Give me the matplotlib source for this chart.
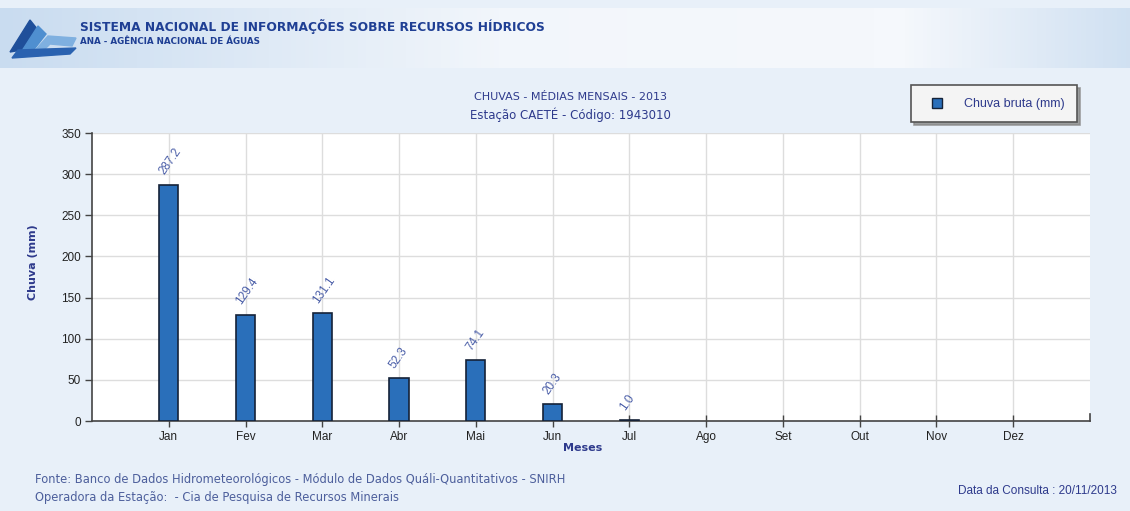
import numpy as np
import matplotlib.pyplot as plt
from matplotlib.colors import LinearSegmentedColormap
from matplotlib.lines import Line2D
from matplotlib.patches import Polygon

# monthly rainfall (mm), CAETÉ station, 2013 - no data after July
months = ['Jan', 'Fev', 'Mar', 'Abr', 'Mai', 'Jun', 'Jul', 'Ago', 'Set', 'Out', 'Nov', 'Dez']
chuva = [287.2, 129.4, 131.1, 52.3, 74.1, 20.3, 1.0, np.nan, np.nan, np.nan, np.nan, np.nan]
yticks = [0, 50, 100, 150, 200, 250, 300, 350]

W, H = 1130, 511
fig = plt.figure(figsize=(W / 100, H / 100), dpi=100)
fig.patch.set_facecolor('#e8f0f9')

# header banner with a soft gradient
hdr = fig.add_axes([0, 1 - 68 / H, 1, 60 / H])
grad = np.linspace(0, 1, 256)
band = np.interp(grad, [0, 0.45, 0.8, 1], [0.0, 0.85, 0.9, 0.15])
hdr.imshow(band[np.newaxis, :], aspect='auto',
           cmap=LinearSegmentedColormap.from_list('hdr', ['#c9dcf0', '#f5f8fc']),
           extent=[0, 1, 0, 1])
hdr.set_xlim(0, 1)
hdr.set_ylim(0, 1)
hdr.axis('off')

# rough logo swooshes
logo = fig.add_axes([8 / W, 1 - 60 / H, 70 / W, 50 / H])
logo.set_xlim(0, 70)
logo.set_ylim(0, 50)
logo.axis('off')
logo.add_patch(Polygon([[2, 8], [22, 40], [30, 30], [14, 10]], closed=True, color='#1f4f9a'))
logo.add_patch(Polygon([[12, 6], [30, 34], [38, 26], [24, 8]], closed=True, color='#4f8fd0'))
logo.add_patch(Polygon([[22, 4], [40, 24], [68, 22], [64, 14], [42, 16], [30, 4]], closed=True, color='#7fb0e0'))
logo.add_patch(Polygon([[4, 2], [62, 6], [68, 12], [10, 10]], closed=True, color='#2a62b0'))

fig.text(80 / W, 1 - 26 / H, 'SISTEMA NACIONAL DE INFORMAÇÕES SOBRE RECURSOS HÍDRICOS',
         fontsize=8.8, fontweight='bold', color='#1f3f94', va='center', family='DejaVu Sans Condensed')
fig.text(80 / W, 1 - 42 / H, 'ANA - AGÊNCIA NACIONAL DE ÁGUAS',
         fontsize=6.3, fontweight='bold', color='#1f3f94', va='center', family='DejaVu Sans Condensed')

# chart titles
fig.text(570 / W, 1 - 97 / H, 'CHUVAS - MÉDIAS MENSAIS - 2013', fontsize=8, color='#2e3a8c',
         ha='center', va='center', family='DejaVu Sans Condensed')
fig.text(570 / W, 1 - 115 / H, 'Estação CAETÉ - Código: 1943010', fontsize=8.5, color='#2e3a8c',
         ha='center', va='center', family='DejaVu Sans Condensed')

# plot area
ax = fig.add_axes([92 / W, 1 - 421 / H, (1090 - 92) / W, (421 - 133) / H])
ax.set_facecolor('white')
x = np.arange(len(months))
ax.bar(x, chuva, width=0.25, color='#2a6fba', edgecolor='#152238', linewidth=1.2, zorder=3)

for xi, v in zip(x, chuva):
    if np.isnan(v):
        continue
    ax.annotate(f'{v:.1f}', (xi, v), xytext=(-5, 8), textcoords='offset points',
                rotation=55, rotation_mode='anchor', ha='left', va='center',
                fontsize=8.5, color='#4a5ea8', zorder=4, family='Liberation Sans')

ax.set_xlim(-1, 12)
ax.set_ylim(0, 350)
ax.set_xticks(x)
ax.set_xticklabels(months, fontsize=8.5, color='#222222', family='Liberation Sans')
ax.set_yticks(yticks)
ax.set_yticklabels([str(t) for t in yticks], fontsize=8.5, color='#222222', family='Liberation Sans')
ax.grid(True, color='#dddddd', linewidth=1, zorder=0)
ax.tick_params(axis='both', length=5, width=1, color='#444444', pad=3)
ax.tick_params(axis='x', direction='inout', length=8)
for s in ['top', 'right']:
    ax.spines[s].set_visible(False)
for s in ['left', 'bottom']:
    ax.spines[s].set_color('#444444')
    ax.spines[s].set_linewidth(1.2)
ax.axvline(12, ymin=0, ymax=0.025, color='#444444', linewidth=1.2, clip_on=False)

ax.set_ylabel('Chuva (mm)', fontsize=8, color='#2e3a8c', fontweight='bold',
              family='DejaVu Sans Condensed')
ax.yaxis.set_label_coords((38 - 92) / (1090 - 92), (421 - 262) / (421 - 133))
ax.set_xlabel('Meses', fontsize=8, color='#2e3a8c', fontweight='bold',
              family='DejaVu Sans Condensed')
ax.xaxis.set_label_coords((583 - 92) / (1090 - 92), -0.075)

handle = Line2D([], [], marker='s', linestyle='none', markersize=7,
                markerfacecolor='#2a6fba', markeredgecolor='#152238')
leg = fig.legend([handle], ['Chuva bruta (mm)'], loc='center',
                 bbox_to_anchor=(994 / W, 1 - 104 / H), fontsize=9, frameon=True,
                 fancybox=False, shadow={'color': '#888888', 'alpha': 0.8},
                 borderpad=1.0, borderaxespad=0, handletextpad=1.0, handlelength=2.2)
leg.get_frame().set_edgecolor('#555555')
leg.get_frame().set_facecolor('#f4f4f4')
leg.get_frame().set_linewidth(1.2)
for t in leg.get_texts():
    t.set_color('#2e3a8c')
    t.set_family('Liberation Sans')

# footer
foot_c = '#4d5f9c'
fig.text(35 / W, 1 - 480 / H, 'Fonte: Banco de Dados Hidrometeorológicos - Módulo de Dados Quáli-Quantitativos - SNIRH',
         fontsize=8.3, color=foot_c, va='center', family='DejaVu Sans Condensed')
fig.text(35 / W, 1 - 497 / H, 'Operadora da Estação:  - Cia de Pesquisa de Recursos Minerais',
         fontsize=8.3, color=foot_c, va='center', family='DejaVu Sans Condensed')
fig.text(1117 / W, 1 - 491 / H, 'Data da Consulta : 20/11/2013', fontsize=8.5, color='#2e3a8c',
         ha='right', va='center', family='Liberation Sans')

fig.savefig('out.png', dpi=100, facecolor=fig.get_facecolor())
